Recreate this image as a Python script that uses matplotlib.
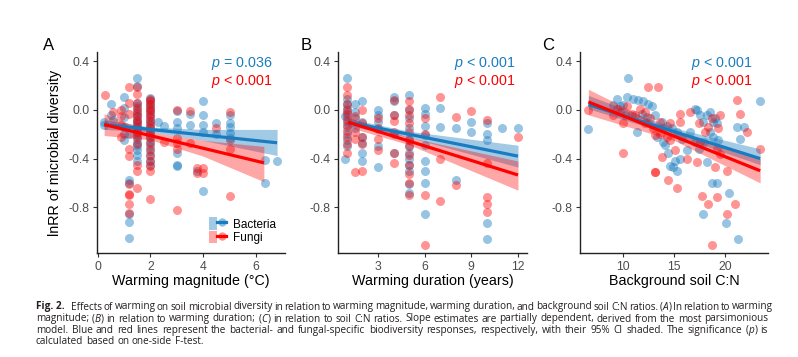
import re
import numpy as np
import matplotlib
matplotlib.use("Agg")
import matplotlib.pyplot as plt
from matplotlib.patches import Patch
from matplotlib.lines import Line2D
from matplotlib.legend_handler import HandlerTuple

plt.rcParams['font.family'] = ['Liberation Sans', 'DejaVu Sans']
plt.rcParams['mathtext.fontset'] = 'custom'
plt.rcParams['mathtext.it'] = 'Liberation Sans:italic'
plt.rcParams['mathtext.rm'] = 'Liberation Sans'

BLUE = "#1a7cc0"
RED = "#ff0000"

# ---------------- data ----------------
# panel A: warming magnitude (x, list of lnRR values)
a_bac = [(0.25, [-0.12, -0.10]), (0.5, [0.05, -0.04]), (0.6, [-0.08]),
         (1.0, [0.11, 0.02, -0.06, -0.14, -0.20, -0.25]),
         (1.2, [-0.58, -0.60, -0.86, -0.92, -1.05, -0.20]),
         (1.5, [0.26, 0.20, 0.06, 0.03, 0.0, -0.03, -0.05, -0.08, -0.10, -0.12, -0.15,
                -0.18, -0.21, -0.24, -0.27, -0.30, -0.33, -0.37, -0.42]),
         (2.0, [0.10, 0.08, 0.05, 0.03, 0.0, -0.02, -0.05, -0.08, -0.11, -0.14, -0.17,
                -0.20, -0.23, -0.26, -0.30, -0.34, -0.38, -0.42, -0.45]),
         (2.3, [-0.10]), (2.5, [-0.13]),
         (3.0, [-0.01, -0.10, -0.15, -0.35, -0.45, -0.46]),
         (3.5, [-0.12, -0.03]), (3.75, [-0.50]),
         (4.0, [0.07, -0.04, -0.12, -0.18, -0.67]),
         (4.5, [-0.11, -0.20]),
         (5.0, [-0.04, -0.11, -0.14, -0.19, -0.23]),
         (6.35, [-0.41, -0.60]), (6.8, [-0.42])]
a_fun = [(0.3, [0.12]), (0.6, [-0.02]),
         (0.9, [0.0, -0.05, -0.12, -0.22]),
         (1.2, [0.19, 0.06, -0.03, -0.32, -0.38, -0.61, -0.69, -0.70, -0.77, -0.85]),
         (1.5, [0.19, 0.13, 0.06, 0.02, -0.02, -0.05, -0.08, -0.11, -0.14, -0.18, -0.22,
                -0.28, -0.45, -0.50, -0.64]),
         (2.0, [0.09, 0.07, 0.05, 0.02, 0.0, -0.03, -0.06, -0.09, -0.12, -0.15, -0.18,
                -0.22, -0.27, -0.32, -0.37, -0.42, -0.46, -0.50, -0.73]),
         (2.5, [-0.26]),
         (3.0, [0.0, -0.23, -0.27, -0.32, -0.82]),
         (3.5, [-0.01, -0.27]), (3.75, [-0.52, -0.48]),
         (4.0, [-0.48, -0.52]), (4.5, [-0.15]),
         (5.0, [-0.02, -0.25, -0.32, -0.71])]

# panel B: warming duration (years)
b_bac = [(0.9, [-0.40, -0.05]),
         (1.0, [0.26, 0.09, 0.05, 0.02, -0.02, -0.06, -0.10, -0.14, -0.20, -0.25, -0.30]),
         (1.5, [0.05, -0.07, -0.02, -0.15]),
         (2.0, [0.07, -0.10, -0.22, -0.27, -0.35, -0.42]),
         (3.0, [0.0, -0.04, -0.10, -0.16, -0.30, -0.47]),
         (4.0, [0.11, 0.07, -0.04, -0.20, -0.35]),
         (5.0, [0.12, 0.0, -0.07, -0.15, -0.24, -0.30, -0.35, -0.40, -0.45, -0.50, -0.61, -0.68]),
         (6.0, [0.02, -0.03, -0.13, -0.21, -0.29, -0.42, -0.50, -0.60, -0.86]),
         (7.0, [0.02, -0.14]), (8.0, [-0.15, -0.58]), (9.0, [-0.10, -0.18]),
         (10.0, [-0.11, -0.20, -0.25, -0.93, -1.06]),
         (11.0, [-0.15]), (12.0, [-0.15])]
b_fun = [(1.0, [0.19, 0.12, 0.05, 0.0, -0.03, -0.08, -0.12, -0.17, -0.22, -0.28, -0.35]),
         (1.5, [-0.51, -0.05, -0.18, -0.24]),
         (2.0, [0.0, -0.11, -0.22, -0.28, -0.50]),
         (3.0, [-0.07, -0.15, -0.24, -0.33]),
         (4.0, [0.08, -0.04, -0.09, -0.18, -0.35, -0.44]),
         (5.0, [0.07, 0.01, -0.04, -0.11, -0.18, -0.25, -0.30, -0.37, -0.45, -0.53, -0.60, -0.70]),
         (6.0, [-0.07, -0.20, -0.70, -1.11]),
         (7.0, [0.11, -0.40, -0.75]), (8.0, [-0.06, -0.62]), (9.0, [-0.01]),
         (10.0, [-0.08, -0.44, -0.72, -0.77, -0.84]),
         (12.0, [-0.22])]

# panel C: background soil C:N (x, y pairs)
c_bac_x = [6.6, 10.52, 9.38, 10.36, 11.01, 11.5, 11.99, 12.48, 12.81, 9.71, 10.2, 11.34,
           12.32, 13.79, 14.28, 14.77, 15.1, 14.93, 15.26, 14.44, 14.12, 16.24, 17.06,
           17.22, 17.55, 17.88, 18.2, 18.53, 19.02, 19.18, 18.53, 18.86, 18.2, 18.69,
           19.18, 17.88, 19.35, 20.42, 20.1, 21.3, 21.14, 21.8, 21.47, 23.43, 13.3,
           13.95, 15.26, 15.75, 16.57, 17.06, 9.05, 10.03, 11.83, 13.14, 14.6, 15.6,
           17.4, 17.9, 18.86]
c_bac_y = [-0.16, 0.26, 0.09, 0.11, 0.09, 0.08, 0.07, 0.05, 0.03, 0.03, -0.04, -0.18,
           -0.06, -0.10, -0.13, -0.15, -0.42, -0.47, -0.50, -0.35, -0.29, -0.33, 0.01,
           0.0, -0.04, -0.10, -0.04, -0.02, -0.07, -0.11, -0.18, -0.22, -0.43, -0.60,
           -0.60, -0.86, -0.25, -0.68, -0.93, -1.06, -0.14, -0.14, -0.24, 0.07, -0.22,
           -0.26, -0.18, -0.24, -0.18, -0.26, 0.04, 0.04, -0.03, -0.04, -0.46, -0.40,
           -0.32, -0.26, -0.10]
c_fun_x = [6.6, 10.03, 12.48, 13.46, 10.03, 9.38, 9.71, 10.36, 10.85, 11.18, 11.67, 12.16,
           12.16, 12.65, 12.97, 13.14, 13.63, 13.63, 13.95, 14.28, 14.6, 14.6, 15.1,
           15.59, 15.59, 13.14, 13.14, 13.79, 14.44, 15.26, 16.24, 17.22, 17.55, 18.04,
           18.37, 18.69, 19.51, 19.35, 19.18, 19.51, 19.02, 20.16, 17.71, 18.37, 19.18,
           18.69, 20.16, 21.0, 21.14, 21.47, 22.12, 23.43, 16.57, 17.4, 9.05]
c_fun_y = [0.0, -0.35, 0.19, 0.19, -0.11, 0.01, -0.02, 0.03, -0.03, -0.04, 0.01, -0.02,
           -0.11, -0.07, -0.15, -0.21, -0.10, -0.20, -0.15, -0.22, -0.11, -0.25, -0.33,
           -0.03, -0.10, -0.51, -0.51, -0.39, -0.58, -0.64, -0.40, -0.43, -0.26, -0.18,
           -0.14, -0.07, -0.04, -0.15, -0.32, -0.36, -0.47, -0.50, -0.71, -0.77, -0.72,
           -1.11, -0.86, -0.77, 0.08, -0.03, -0.18, -0.32, -0.02, -0.11, -0.04]

# fitted lines with 95% CI (x, fit, lower, upper)
fits = {
    "A": {"bac": ([0.25, 2.0, 4.0, 6.8], [-0.12, -0.16, -0.206, -0.27],
                  [-0.16, -0.18, -0.25, -0.375], [-0.08, -0.14, -0.16, -0.16]),
          "fun": ([0.25, 2.0, 4.0, 6.3], [-0.12, -0.211, -0.315, -0.435],
                  [-0.21, -0.245, -0.38, -0.59], [-0.03, -0.18, -0.25, -0.30])},
    "B": {"bac": ([1.07, 5.0, 12.0], [-0.10, -0.20, -0.38],
                  [-0.13, -0.225, -0.47], [-0.07, -0.175, -0.29]),
          "fun": ([1.07, 5.0, 12.0], [-0.10, -0.256, -0.535],
                  [-0.14, -0.286, -0.66], [-0.06, -0.226, -0.42])},
    "C": {"bac": ([6.6, 15.0, 23.43], [0.044, -0.178, -0.40],
                  [0.01, -0.208, -0.45], [0.12, -0.148, -0.32]),
          "fun": ([6.6, 15.0, 23.43], [0.066, -0.216, -0.50],
                  [-0.04, -0.251, -0.60], [0.17, -0.181, -0.40])},
}

p_bac = ["$p$ = 0.036", "$p$ < 0.001", "$p$ < 0.001"]
p_fun = ["$p$ < 0.001", "$p$ < 0.001", "$p$ < 0.001"]
xlabels = ["Warming magnitude (\u00b0C)", "Warming duration (years)", "Background soil C:N"]
xticks = [[0, 2, 4, 6], [3, 6, 9, 12], [10, 15, 20]]
xlims = [(-0.02, 7.1), (0.43, 12.58), (5.78, 24.2)]
yticks = [0.4, 0.0, -0.4, -0.8]
ytick_labels = ["0.4", "0.0", "-0.4", "-0.8"]
letters = ["A", "B", "C"]

caption = [
    "**Fig.~2.** Effects of warming on soil microbial diversity in relation to warming magnitude, "
    "warming duration, and background soil C:N ratios. (_A_) In relation to warming",
    "magnitude; (_B_) in relation to warming duration; (_C_) in relation to soil C:N ratios. "
    "Slope estimates are partially dependent, derived from the most parsimonious",
    "model. Blue and red lines represent the bacterial- and fungal-specific biodiversity "
    "responses, respectively, with their 95% CI shaded. The significance (_p_) is",
    "calculated based on one-side F-test.",
]


def expand(groups):
    xs = [x for x, ys in groups for _ in ys]
    ys = [y for _, ys in groups for y in ys]
    return xs, ys


panels = [(expand(a_bac), expand(a_fun)),
          (expand(b_bac), expand(b_fun)),
          ((c_bac_x, c_bac_y), (c_fun_x, c_fun_y))]

W, H = 798, 357
fig = plt.figure(figsize=(W / 100, H / 100), dpi=100)
axes_px = [(97, 285), (338, 527), (580, 768)]
top, bot = 52, 253
letter_x = [43, 301, 542]
p_x = [0.936, 0.937, 0.92]

for i, (l, r) in enumerate(axes_px):
    ax = fig.add_axes([l / W, 1 - bot / H, (r - l) / W, (bot - top) / H])
    (bx, by), (fx, fy) = panels[i]
    key = letters[i]
    # ribbons and lines
    for name, col, fa in [("bac", BLUE, 0.4), ("fun", RED, 0.35)]:
        xx, fit, lo, hi = fits[key][name]
        ax.fill_between(xx, lo, hi, color=col, alpha=fa, lw=0, zorder=3)
    ax.scatter(bx, by, s=42, color=BLUE, alpha=0.45, lw=0, zorder=2)
    ax.scatter(fx, fy, s=42, color=RED, alpha=0.42, lw=0, zorder=2)
    for name, col in [("bac", BLUE), ("fun", RED)]:
        xx, fit, lo, hi = fits[key][name]
        ax.plot(xx, fit, color=col, lw=2.3, zorder=4, solid_capstyle='butt')

    ax.set_xlim(*xlims[i])
    ax.set_ylim(-1.177, 0.477)
    ax.set_xticks(xticks[i])
    ax.set_yticks(yticks)
    ax.set_yticklabels(ytick_labels)
    for s in ["top", "right"]:
        ax.spines[s].set_visible(False)
    for s in ["left", "bottom"]:
        ax.spines[s].set_linewidth(1.0)
        ax.spines[s].set_color("#222222")
    ax.tick_params(direction='out', length=3, width=0.8, color='#333333',
                   labelcolor='#4d4d4d', labelsize=8.8, pad=2.5)
    ax.set_xlabel(xlabels[i], fontsize=10.3, color='black', va='top')
    ax.xaxis.set_label_coords(0.5, -0.105)
    if i == 0:
        ax.set_ylabel("lnRR of microbial diversity", fontsize=10.3)
        ax.yaxis.set_label_coords(-0.186, 0.5)
    ax.text(p_x[i], 0.945, p_bac[i], transform=ax.transAxes, ha='right', va='center',
            fontsize=10.3, color=BLUE)
    ax.text(p_x[i], 0.851, p_fun[i], transform=ax.transAxes, ha='right', va='center',
            fontsize=10.3, color=RED)
    fig.text(letter_x[i] / W, 1 - 46 / H, letters[i], fontsize=12, ha='left', va='center')

    if i == 0:
        hb = (Patch(facecolor=BLUE, alpha=0.4, lw=0),
              Line2D([0], [0], color=BLUE, lw=2.3, marker='o', ms=6,
                     markerfacecolor=(0.1, 0.49, 0.75, 0.5), markeredgewidth=0))
        hf = (Patch(facecolor=RED, alpha=0.35, lw=0),
              Line2D([0], [0], color=RED, lw=2.3, marker='o', ms=6,
                     markerfacecolor=(1, 0, 0, 0.45), markeredgewidth=0))
        ax.legend([hb, hf], ["Bacteria", "Fungi"], handler_map={tuple: HandlerTuple(ndivide=None)},
                  loc='lower left', bbox_to_anchor=(0.595, 0.045), frameon=False,
                  fontsize=8.5, handlelength=1.45, handleheight=1.3, handletextpad=0.6,
                  labelspacing=0.0, borderpad=0, borderaxespad=0)

# ---------------- caption, justified ----------------
renderer = fig.canvas.get_renderer()
cap_x0, cap_x1 = 36, 773
cap_y = [307, 319, 330.5, 342]
cap_font = ['Open Sans', 'DejaVu Sans']


def frags(word):
    out = []
    for part in re.split(r'(\*\*.+?\*\*|_.+?_)', word):
        if not part:
            continue
        if part.startswith('**'):
            out.append((part[2:-2].replace('~', ' '), 'bold', 'normal'))
        elif part.startswith('_'):
            out.append((part[1:-1], 'normal', 'italic'))
        else:
            out.append((part, 'normal', 'normal'))
    return out


def make(txt, wt, st, fs):
    return fig.text(0, 0, txt, fontsize=fs, fontweight=wt, fontstyle=st,
                    family=cap_font, color='#231f20', va='center', ha='left')


# font size from the width of the last line (166 px in the reference)
probe = make("calculated based on one-side F-test.", 'normal', 'normal', 10)
w10 = probe.get_window_extent(renderer).width
probe.remove()
cap_fs = 10 * 166 / w10

for li, line in enumerate(caption):
    words = line.split(' ')
    fs = cap_fs
    items = []
    for w in words:
        pieces = []
        for txt, wt, st in frags(w):
            t = make(txt, wt, st, fs)
            pieces.append((t, t.get_window_extent(renderer).width))
        items.append(pieces)
    widths = [sum(p[1] for p in it) for it in items]
    extra = 5
    if li < len(caption) - 1:
        gap = (cap_x1 - cap_x0 - extra - sum(widths)) / (len(words) - 1)
    else:
        gap = 0.27 * fs * 100 / 72
    x = cap_x0
    for k, it in enumerate(items):
        for t, wpx in it:
            t.set_position((x / W, 1 - cap_y[li] / H))
            x += wpx
        x += gap + (extra if k == 0 and li == 0 else 0)

fig.savefig("out.png", dpi=100)
